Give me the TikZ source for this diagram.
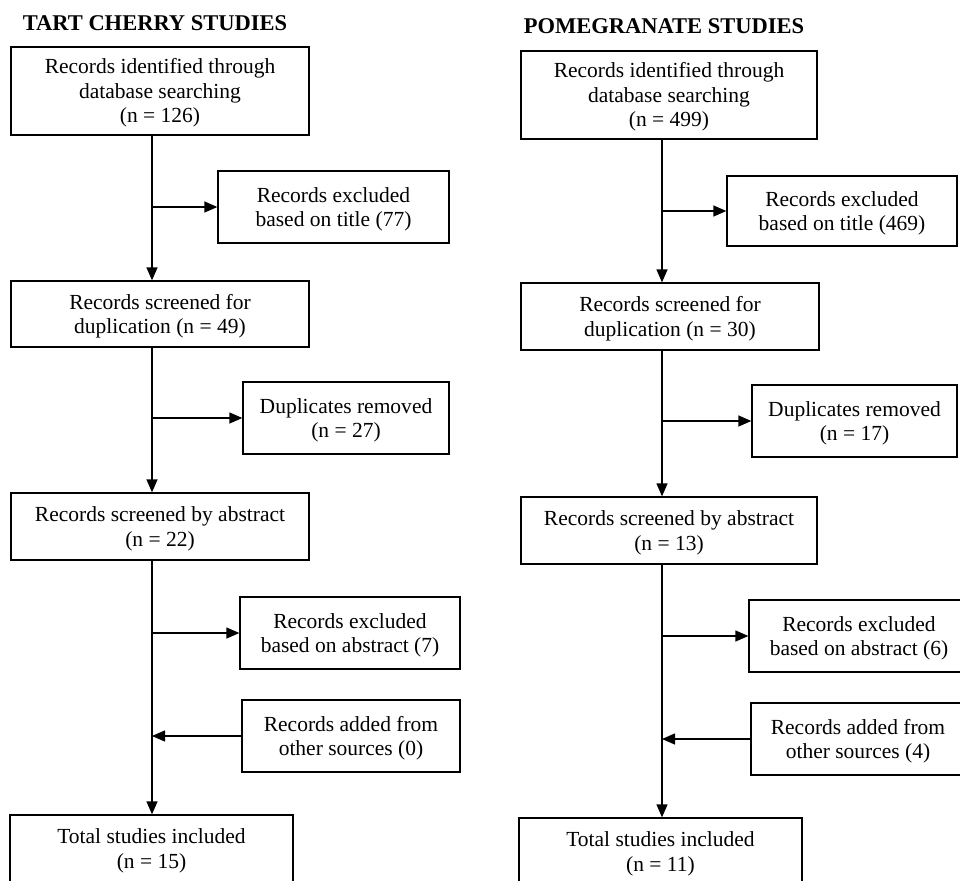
\documentclass[tikz,border=0pt]{standalone}
\usepackage{fontspec}
\setmainfont{Liberation Serif}
\usetikzlibrary{arrows.meta}
\newcommand{\bt}[1]{\raisebox{-2.5pt}[\height][\depth]{\begin{tabular}{@{}c@{}}#1\end{tabular}}}
\begin{document}
\begin{tikzpicture}[x=1pt,y=-1pt,
  box/.style={draw, line width=1.3pt, inner sep=0pt, align=center,
    font=\fontsize{21.5}{24.5}\selectfont},
  ttl/.style={font=\fontsize{22.5}{26}\selectfont\bfseries, inner sep=0pt},
  arr/.style={line width=1.3pt, -{Triangle[length=13pt,width=11pt]}}]
\useasboundingbox (0,0) rectangle (960,880);
\clip (0,0) rectangle (960,880);
% ---------- left ----------
\node[ttl] (lt) at (155,23) {TART CHERRY STUDIES};
\node[box, minimum width=298pt, minimum height=88pt] (L1) at (160,91)
  {\bt{Records identified through\\database searching\\(n = 126)}};
\node[box, minimum width=231pt, minimum height=72pt] (LT) at (333.5,207)
  {\bt{Records excluded\\based on title (77)}};
\node[box, minimum width=298pt, minimum height=66pt] (L2) at (160,314)
  {\bt{Records screened for\\duplication (n = 49)}};
\node[box, minimum width=206pt, minimum height=72pt] (LD) at (346,418)
  {\bt{Duplicates removed\\(n = 27)}};
\node[box, minimum width=298pt, minimum height=67pt] (L3) at (160,526.5)
  {\bt{Records screened by abstract\\(n = 22)}};
\node[box, minimum width=220pt, minimum height=72pt] (LA) at (350,633)
  {\bt{Records excluded\\based on abstract (7)}};
\node[box, minimum width=218pt, minimum height=72pt] (LO) at (351,736)
  {\bt{Records added from\\other sources (0)}};
\node[box, minimum width=283pt, minimum height=67pt] (L4) at (151.5,848.5)
  {\bt{Total studies included\\(n = 15)}};
\coordinate (lx) at (152,0);
\draw[arr] (L1.south -| lx) -- (L2.north -| lx);
\draw[arr] (LT.west -| lx) -- (LT.west);
\draw[arr] (L2.south -| lx) -- (L3.north -| lx);
\draw[arr] (LD.west -| lx) -- (LD.west);
\draw[arr] (L3.south -| lx) -- (L4.north -| lx);
\draw[arr] (LA.west -| lx) -- (LA.west);
\draw[arr] (LO.west) -- (LO.west -| lx);
% ---------- right ----------
\node[ttl] (rt) at (664,26) {POMEGRANATE STUDIES};
\node[box, minimum width=296pt, minimum height=88pt] (R1) at (669,95)
  {\bt{Records identified through\\database searching\\(n = 499)}};
\node[box, minimum width=230pt, minimum height=70pt] (RT) at (842,211)
  {\bt{Records excluded\\based on title (469)}};
\node[box, minimum width=298pt, minimum height=67pt] (R2) at (670,316.5)
  {\bt{Records screened for\\duplication (n = 30)}};
\node[box, minimum width=205pt, minimum height=72pt] (RD) at (854.5,421)
  {\bt{Duplicates removed\\(n = 17)}};
\node[box, minimum width=296pt, minimum height=67pt] (R3) at (669,530.5)
  {\bt{Records screened by abstract\\(n = 13)}};
\node[box, minimum width=220pt, minimum height=72pt] (RA) at (859,636)
  {\bt{Records excluded\\based on abstract (6)}};
\node[box, minimum width=214pt, minimum height=72pt] (RO) at (858,739)
  {\bt{Records added from\\other sources (4)}};
\node[box, minimum width=283pt, minimum height=67pt] (R4) at (660.5,851.5)
  {\bt{Total studies included\\(n = 11)}};
\coordinate (rx) at (662,0);
\draw[arr] (R1.south -| rx) -- (R2.north -| rx);
\draw[arr] (RT.west -| rx) -- (RT.west);
\draw[arr] (R2.south -| rx) -- (R3.north -| rx);
\draw[arr] (RD.west -| rx) -- (RD.west);
\draw[arr] (R3.south -| rx) -- (R4.north -| rx);
\draw[arr] (RA.west -| rx) -- (RA.west);
\draw[arr] (RO.west) -- (RO.west -| rx);
\end{tikzpicture}
\end{document}
